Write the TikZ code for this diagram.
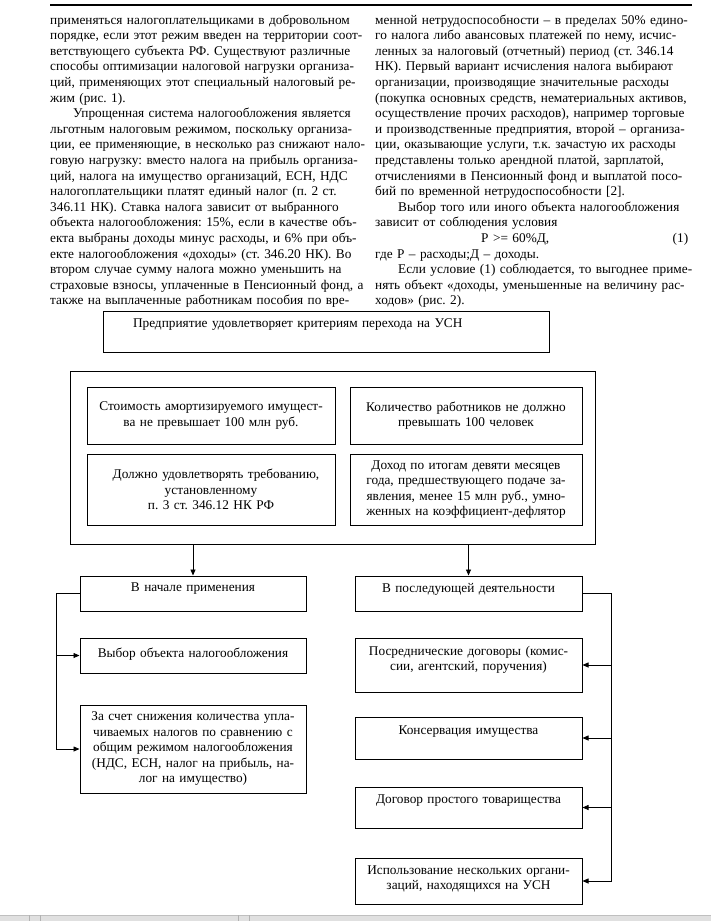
\documentclass[tikz,border=0pt]{standalone}
\usepackage{fontspec}
\setmainfont{Liberation Serif}
\usetikzlibrary{arrows.meta}

\newcommand\bodyfont{\fontsize{13.3pt}{15.6pt}\selectfont}
\newcommand\boxfont{\fontsize{13.3pt}{15.5pt}\selectfont}
\newcommand\jl[1]{\hbox to\linewidth{#1}}
\newcommand\lift[1]{\par\vskip#1pt\hrule height 0pt width 0pt}
\hbadness=10000 \hfuzz=20pt
\frenchspacing

\tikzset{
  col/.style={inner sep=0pt, text width=313pt, font=\bodyfont, anchor=base west},
  frame/.style={draw, line width=1pt, inner sep=0pt},
  box/.style={frame, align=center, font=\boxfont},
  lbox/.style={box, text width=218pt, minimum width=226pt},
  rbox/.style={box, text width=219pt, minimum width=227pt},
  arr/.style={line width=0.8pt, -{Triangle[length=6pt,width=5pt]}},
}

\begin{document}
\begin{tikzpicture}[x=1pt,y=-1pt]
\useasboundingbox (0,0) rectangle (711,921);
\draw[line width=2.6pt] (50,5) -- (692,5);

% two columns of text
\node[col] (lefttext) at (50,24) {%
\jl{применяться налогоплательщиками в добровольном}
\jl{порядке, если этот режим введен на территории соот-}
\jl{ветствующего субъекта РФ. Существуют различные}
\jl{способы оптимизации налоговой нагрузки организа-}
\jl{ций, применяющих этот специальный налоговый ре-}
\hbox{жим (рис. 1).}
\jl{\hspace*{23pt}Упрощенная система налогообложения является}
\jl{льготным налоговым режимом, поскольку организа-}
\jl{ции, ее применяющие, в несколько раз снижают нало-}
\jl{говую нагрузку: вместо налога на прибыль организа-}
\jl{ций, налога на имущество организаций, ЕСН, НДС}
\jl{налогоплательщики платят единый налог (п. 2 ст.}
\jl{346.11 НК). Ставка налога зависит от выбранного}
\jl{объекта налогообложения: 15\%, если в качестве объ-}
\jl{екта выбраны доходы минус расходы, и 6\% при объ-}
\jl{екте налогообложения «доходы» (ст. 346.20 НК). Во}
\jl{втором случае сумму налога можно уменьшить на}
\jl{страховые взносы, уплаченные в Пенсионный фонд, а}
\jl{также на выплаченные работникам пособия по вре-}};
\node[col] (righttext) at (375,24) {%
\jl{менной нетрудоспособности – в пределах 50\% едино-}
\jl{го налога либо авансовых платежей по нему, исчис-}
\jl{ленных за налоговый (отчетный) период (ст. 346.14}
\jl{НК). Первый вариант исчисления налога выбирают}
\jl{организации, производящие значительные расходы}
\jl{(покупка основных средств, нематериальных активов,}
\jl{осуществление прочих расходов), например торговые}
\jl{и производственные предприятия, второй – организа-}
\jl{ции, оказывающие услуги, т.к. зачастую их расходы}
\jl{представлены только арендной платой, зарплатой,}
\jl{отчислениями в Пенсионный фонд и выплатой посо-}
\hbox{бий по временной нетрудоспособности [2].}
\jl{\hspace*{23pt}Выбор того или иного объекта налогообложения}
\hbox{зависит от соблюдения условия}
\jl{\hspace*{106pt}Р >= 60\%Д,\hfill(1)}
\hbox{где Р – расходы;Д – доходы.}
\jl{\hspace*{23pt}Если условие (1) соблюдается, то выгоднее приме-}
\jl{нять объект «доходы, уменьшенные на величину рас-}
\hbox{ходов» (рис. 2).}};

% scheme
\node[box, align=left, text width=386pt, inner xsep=30pt, minimum height=41pt] (usn) at (326,331.5)
  {Предприятие удовлетворяет критериям перехода на УСН\lift{13}};
\node[frame, minimum width=525pt, minimum height=173pt] (crit) at (332.5,457.5) {};
\node[box, text width=240pt, minimum width=248pt, minimum height=57pt] (c1) at (211,415.5)
  {Стоимость амортизируемого имущест-\\ва не превышает 100 млн руб.};
\node[box, text width=226pt, minimum width=232pt, minimum height=57pt] (c2) at (466,415.5)
  {Количество работников не должно\\превышать 100 человек};
\node[box, text width=240pt, minimum width=248pt, minimum height=71pt] (c3) at (211,489.5)
  {\hspace*{10pt}Должно удовлетворять требованию,\\установленному\\п. 3 ст. 346.12 НК РФ};
\node[box, text width=226pt, minimum width=232pt, minimum height=71pt] (c4) at (466,489.5)
  {Доход по итогам девяти месяцев\\года, предшествующего подаче за-\\явления, менее 15 млн руб., умно-\\женных на коэффициент-дефлятор};

\node[lbox, minimum height=35pt] (start) at (193,593.5) {В начале применения\lift{9}};
\node[rbox, minimum height=35pt] (later) at (468.5,593.5) {В последующей деятельности\lift{9}};
\node[lbox, minimum height=35pt] (choice) at (193,655.5) {Выбор объекта налогообложения\lift{3}};
\node[lbox, minimum height=88pt] (saving) at (193,749)
  {За счет снижения количества упла-\\чиваемых налогов по сравнению с\\общим режимом налогообложения\\(НДС, ЕСН, налог на прибыль, на-\\лог на имущество)};
\node[rbox, minimum height=54pt] (agency) at (468.5,665)
  {Посреднические договоры (комис-\\сии, агентский, поручения)\lift{10}};
\node[rbox, minimum height=42pt] (conserv) at (468.5,738) {Консервация имущества\lift{12}};
\node[rbox, minimum height=41pt] (partner) at (468.5,807.5) {Договор простого товарищества\lift{13}};
\node[rbox, minimum height=46pt] (multi) at (468.5,881)
  {Использование нескольких органи-\\заций, находящихся на УСН\lift{4}};

\coordinate (lbus) at (56,0);
\coordinate (rbus) at (611,0);
\draw[arr] (start.north |- crit.south) -- (start.north);
\draw[arr] (later.north |- crit.south) -- (later.north);
\draw[arr] (start.west) -- (start.west -| lbus) |- (saving.west);
\draw[arr] (choice.west -| lbus) -- (choice.west);
\draw[arr] (later.east) -- (later.east -| rbus) |- (multi.east);
\foreach \n in {agency,conserv,partner}
  \draw[arr] (\n.east -| rbus) -- (\n.east);

% window strip
\fill[black!12] (0,915) rectangle (711,921);
\draw[black!25, line width=0.8pt] (0,915) -- (711,915);
\foreach \x in {29,40,238,249}
  \draw[black!30] (\x,915) -- (\x,921);
\end{tikzpicture}
\end{document}
